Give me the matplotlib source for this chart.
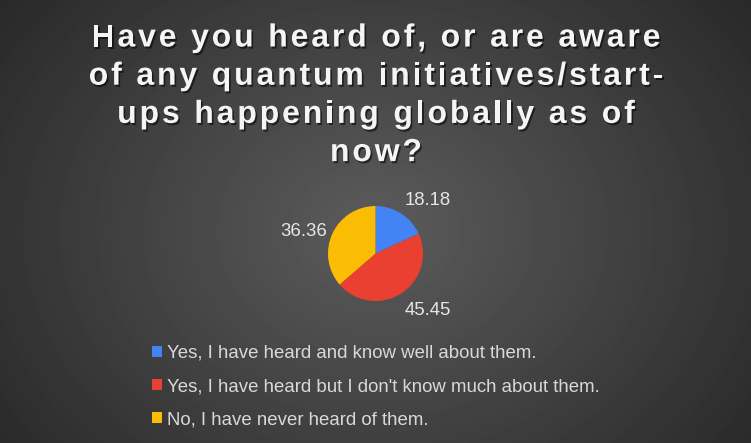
import numpy as np
import matplotlib.pyplot as plt
import matplotlib.patheffects as pe
from matplotlib.font_manager import FontProperties, findfont, get_font

plt.rcParams['font.family'] = ['Liberation Sans', 'DejaVu Sans']

# answers and shares (percent)
answers = ['Yes, I have heard and know well about them.',
           "Yes, I have heard but I don't know much about them.",
           'No, I have never heard of them.']
shares = [18.18, 45.45, 36.36]
colors = ['#4284F3', '#EA4031', '#FBBC04']
title_lines = ['Have you heard of, or are aware',
               'of any quantum initiatives/start-',
               'ups happening globally as of',
               'now?']

W, H = 751, 443
fig = plt.figure(figsize=(W / 100, H / 100), dpi=100)

# radial gradient background, data coords = pixels (y down)
bg = fig.add_axes([0, 0, 1, 1])
yy, xx = np.mgrid[0:H, 0:W]
d = np.sqrt(((xx - 375) / 520) ** 2 + ((yy - 230) / 420) ** 2)
shade = np.clip(0.36 - 0.22 * d, 0.14, 0.36)
bg.imshow(shade, cmap='gray', vmin=0, vmax=1, aspect='auto', extent=[0, W, H, 0])
bg.axis('off')


def advances(s, size, weight):
    font = get_font(findfont(FontProperties(family='Liberation Sans', weight=weight)))
    font.set_size(size, 100)
    return [font.load_char(ord(c)).linearHoriAdvance / 65536 for c in s]


# title with letter spacing and a soft shadow
tsize = 23
line_w = sum(advances(title_lines[0], tsize, 'bold'))
gap = (569 - line_w) / (len(title_lines[0]) - 1)
shadow = [pe.withSimplePatchShadow(offset=(1.2, -1.5), shadow_rgbFace='black', alpha=0.55)]
for i, line in enumerate(title_lines):
    adv = advances(line, tsize, 'bold')
    width = sum(adv) + gap * (len(line) - 1)
    x = 376 - width / 2
    y = 46.5 + 38.2 * i
    for c, a in zip(line, adv):
        if c != ' ':
            bg.text(x, y, c, color='#f5f5f5', fontsize=tsize, fontweight='bold',
                    ha='left', va='baseline', path_effects=shadow)
        x += a + gap

# pie
cx, cy, r = 375.5, 253.5, 47.5
ax = fig.add_axes([(cx - r) / W, (H - cy - r) / H, 2 * r / W, 2 * r / H])
wedges, texts = ax.pie(shares, colors=colors, startangle=90, counterclock=False,
                       labels=[f'{s:.2f}' for s in shares], labeldistance=1.12,
                       textprops=dict(color='#e6e6e6', fontsize=13.4))
for w, t in zip(wedges, texts):
    s = np.sin(np.deg2rad((w.theta1 + w.theta2) / 2))
    t.set_va('bottom' if s > 0.6 else 'top' if s < -0.6 else 'center')
    if s < -0.6:
        t.set_y(t.get_position()[1] - 0.08)
ax.set_xlim(-1, 1)
ax.set_ylim(-1, 1)
ax.set_aspect('equal')

leg = fig.legend(wedges, answers, loc='upper left',
                 bbox_to_anchor=(152 / W, 1 - 345 / H), frameon=False,
                 fontsize=13.4, labelcolor='#d9d9d9', handlelength=0.55,
                 handleheight=0.55, handletextpad=0.28, labelspacing=0.86,
                 borderpad=0, borderaxespad=0)

fig.savefig('out.png', dpi=100)
